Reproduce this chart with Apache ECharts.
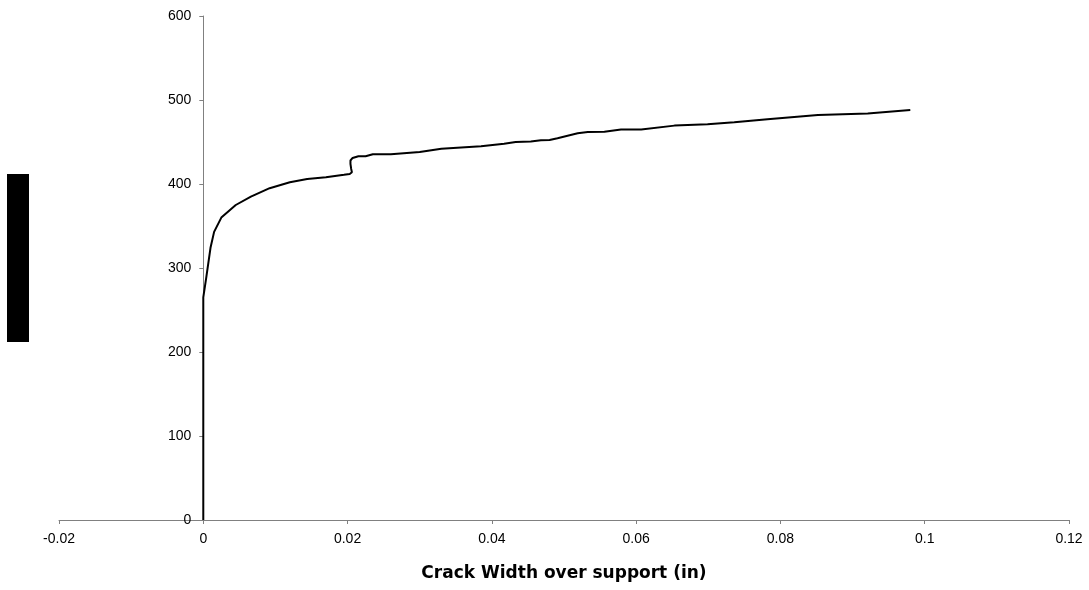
<!DOCTYPE html>
<html>
<head>
<meta charset="utf-8">
<script src="https://cdn.jsdelivr.net/npm/echarts@6/dist/echarts.min.js"></script>
<style>
html,body{margin:0;padding:0;background:#fff;}
#chart{width:1089px;height:590px;}
</style>
</head>
<body>
<div id="chart"></div>
<script>
// Data
const crackWidth = [0, 0, 0.0004, 0.001, 0.0015, 0.0025, 0.0045, 0.0066, 0.0092, 0.012, 0.0144, 0.017, 0.0195, 0.0203, 0.0206, 0.0205, 0.0204, 0.0204, 0.0207, 0.0215, 0.0225, 0.0235, 0.026, 0.03, 0.033, 0.0385, 0.0417, 0.0433, 0.0454, 0.0468, 0.048, 0.0491, 0.0505, 0.0519, 0.0533, 0.0556, 0.0579, 0.0607, 0.0653, 0.0699, 0.0736, 0.0782, 0.0852, 0.0921, 0.098];
const load       = [0, 265, 288, 324, 343, 360, 375, 385, 395, 402, 406, 408, 411, 412, 414, 418, 424, 428, 431, 433, 433, 435.5, 435.5, 438, 442, 445, 448, 450, 450.5, 452, 452.5, 454.5, 457.5, 460.5, 462, 462.3, 465, 465, 469.5, 471, 473.4, 477, 482, 484, 488];
const xTicks = { min: -0.02, max: 0.12, interval: 0.02 };
const yTicks = { min: 0, max: 600, interval: 100 };
const xTitle = 'Crack Width over support (in)';

const points = crackWidth.map((x, i) => [x, load[i]]);

const W = 1089, gridLeft = 59, gridRight = 20;
const plotW = W - gridLeft - gridRight;
// y axis crosses the x axis at x = 0
const yAxisShift = plotW * (0 - xTicks.min) / (xTicks.max - xTicks.min);

const chart = echarts.init(document.getElementById('chart'));
const axisGray = '#808080';
const labelFont = { color: '#000', fontFamily: "'Liberation Sans', Arial, sans-serif", fontSize: 14 };

chart.setOption({
  animation: false,
  backgroundColor: '#ffffff',
  grid: { left: gridLeft, right: gridRight, top: 16, bottom: 70, containLabel: false },
  xAxis: {
    type: 'value',
    min: xTicks.min, max: xTicks.max, interval: xTicks.interval,
    name: xTitle,
    nameLocation: 'middle',
    nameGap: 45,
    nameTextStyle: { color: '#000', fontFamily: "'DejaVu Sans', sans-serif", fontWeight: 'bold', fontSize: 17 },
    axisLine: { show: true, onZero: false, lineStyle: { color: axisGray, width: 1 } },
    axisTick: { show: true, length: 4, lineStyle: { color: axisGray } },
    axisLabel: Object.assign({ margin: 12, showMinLabel: true, showMaxLabel: true }, labelFont),
    splitLine: { show: false }
  },
  yAxis: {
    type: 'value',
    min: yTicks.min, max: yTicks.max, interval: yTicks.interval,
    offset: -yAxisShift,
    axisLine: { show: true, onZero: false, lineStyle: { color: axisGray, width: 1 } },
    axisTick: { show: true, length: 4, lineStyle: { color: axisGray } },
    axisLabel: Object.assign({ margin: 12, showMinLabel: true, showMaxLabel: true }, labelFont),
    splitLine: { show: false }
  },
  graphic: [
    { type: 'rect', left: 7, top: 174, shape: { width: 22, height: 168 }, style: { fill: '#000' }, z: 10 }
  ],
  series: [{
    type: 'line',
    data: points,
    showSymbol: false,
    smooth: false,
    lineStyle: { color: '#000', width: 2 },
    z: 5
  }]
});
</script>
</body>
</html>
